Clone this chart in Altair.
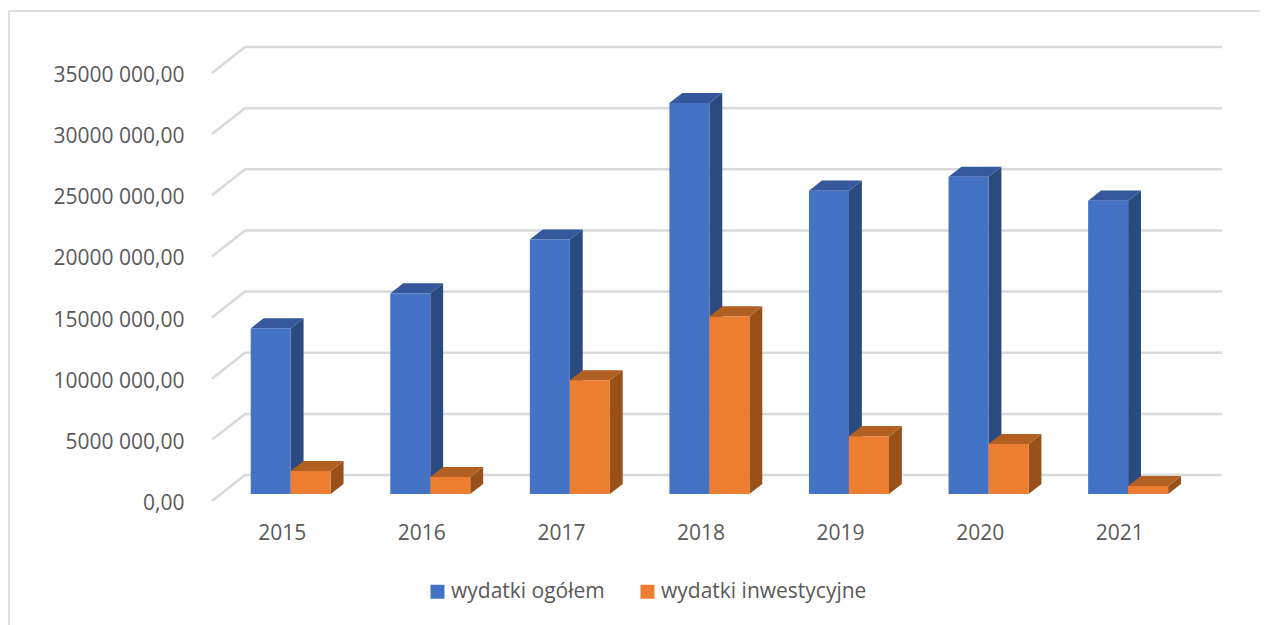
import altair as alt
import pandas as pd

years = [2015, 2016, 2017, 2018, 2019, 2020, 2021]
total = [13540, 16400, 20800, 31970, 24800, 25940, 23980]
invest = [1875, 1390, 9300, 14520, 4730, 4080, 650]
y_ticks = [0, 5000, 10000, 15000, 20000, 25000, 30000, 35000]
names = ["wydatki ogółem", "wydatki inwestycyjne"]

GRID = "#D9D9D9"
TEXT = "#595959"
FRONT = ["#4472C4", "#ED7D31"]
TOP = ["#34589B", "#B25F22"]
SIDE = ["#2A4A80", "#9A5119"]
FONT = "Open Sans"

# oblique projection: the floor depth in data units
X_MIN, X_FRONT_MAX = 2014.5, 2021.5
DX, DY = 0.2364, 2120
X_MAX = X_FRONT_MAX + DX
Y_MAX = 35000 + DY
Z0, Z1 = 0.27, 0.66
BAR = 0.2866

x_scale = alt.Scale(domain=[X_MIN, X_MAX], nice=False, zero=False)
y_scale = alt.Scale(domain=[0, Y_MAX], nice=False, zero=False)

grid_rows = []
for v in y_ticks:
    grid_rows += [
        {"x": X_MIN, "y": v, "g": v},
        {"x": X_MIN + DX, "y": v + DY, "g": v},
        {"x": X_MAX, "y": v + DY, "g": v},
    ]

front_rows, side_rows, top_rows = [[], []], [[], []], [[], []]
for k, series in enumerate([total, invest]):
    for yr, val in zip(years, series):
        xa = yr + Z0 * DX + (k - 1) * BAR
        xb = xa + BAR
        ya = Z0 * DY
        yb = ya + val
        d = (Z1 - Z0)
        dx, dy = d * DX, d * DY
        front_rows[k].append({"x": xa, "x2": xb, "y": ya, "y2": yb, "s": names[k]})
        side_rows[k] += [
            {"x": xb, "y": ya, "y2": yb, "b": yr},
            {"x": xb + dx, "y": ya + dy, "y2": yb + dy, "b": yr},
        ]
        top_rows[k] += [
            {"x": xa, "y": yb, "y2": yb, "b": yr},
            {"x": xa + dx, "y": yb, "y2": yb + dy, "b": yr},
            {"x": xb, "y": yb, "y2": yb + dy, "b": yr},
            {"x": xb + dx, "y": yb + dy, "y2": yb + dy, "b": yr},
        ]

x_axis = alt.Axis(
    values=years, format="d", grid=False, domain=False, ticks=False, title=None,
    labelFontSize=21, labelFont=FONT, labelColor=TEXT, labelPadding=21,
    labelFlush=False, labelOverlap=False,
)
y_axis = alt.Axis(
    values=y_ticks, grid=False, domain=False, ticks=False, title=None,
    labelFontSize=21, labelFont=FONT, labelColor=TEXT, labelPadding=28,
    labelFlush=False, labelOverlap=False, labelOffset=2.5,
    labelExpr="datum.value == 0 ? '0,00' : datum.value + ' 000,00'",
)

X = alt.X("x:Q", scale=x_scale, axis=x_axis)
Y = alt.Y("y:Q", scale=y_scale, axis=y_axis)

axes = (
    alt.Chart(pd.DataFrame(grid_rows))
    .mark_line(color=GRID, strokeWidth=2.5)
    .encode(x=X, y=Y, detail="g:N")
)

layers = [axes]
for k in range(2):
    layers.append(
        alt.Chart(pd.DataFrame(side_rows[k]))
        .mark_area(color=SIDE[k], interpolate="linear")
        .encode(x=X, y=Y, y2="y2:Q", detail="b:N")
    )
    layers.append(
        alt.Chart(pd.DataFrame(top_rows[k]))
        .mark_area(color=TOP[k], interpolate="linear")
        .encode(x=X, y=Y, y2="y2:Q", detail="b:N")
    )
    layers.append(
        alt.Chart(pd.DataFrame(front_rows[k]))
        .mark_rect()
        .encode(
            x=X,
            x2="x2:Q",
            y=Y,
            y2="y2:Q",
            color=alt.Color(
                "s:N",
                scale=alt.Scale(domain=names, range=FRONT),
                legend=alt.Legend(
                    orient="none", legendX=215, legendY=534, direction="horizontal",
                    columns=2, title=None, symbolType="square", symbolSize=196,
                    symbolStrokeWidth=0, labelFontSize=21, labelFont=FONT,
                    labelColor=TEXT, labelOffset=3, columnPadding=32,
                    labelLimit=400,
                ),
            ),
        )
    )

frame_top = alt.Chart(pd.DataFrame({"a": [0]})).mark_rule(color="#DEDEDE", strokeWidth=2).encode(
    x=alt.value(-203), x2=alt.value(1056), y=alt.value(-36)
)
frame_left = alt.Chart(pd.DataFrame({"a": [0]})).mark_rule(color="#DEDEDE", strokeWidth=2).encode(
    x=alt.value(-203), y=alt.value(-36), y2=alt.value(578)
)

chart = (
    alt.layer(frame_top, frame_left, *layers)
    .resolve_scale(x="shared", y="shared")
    .properties(
        width=1010,
        height=454,
        padding={"left": 204, "top": 39, "right": 38, "bottom": 124},
        autosize=alt.AutoSizeParams(type="none"),
        background="white",
    )
    .configure_view(stroke=None)
)

chart.save("out.html", embed_options={"renderer": "svg", "actions": False})
